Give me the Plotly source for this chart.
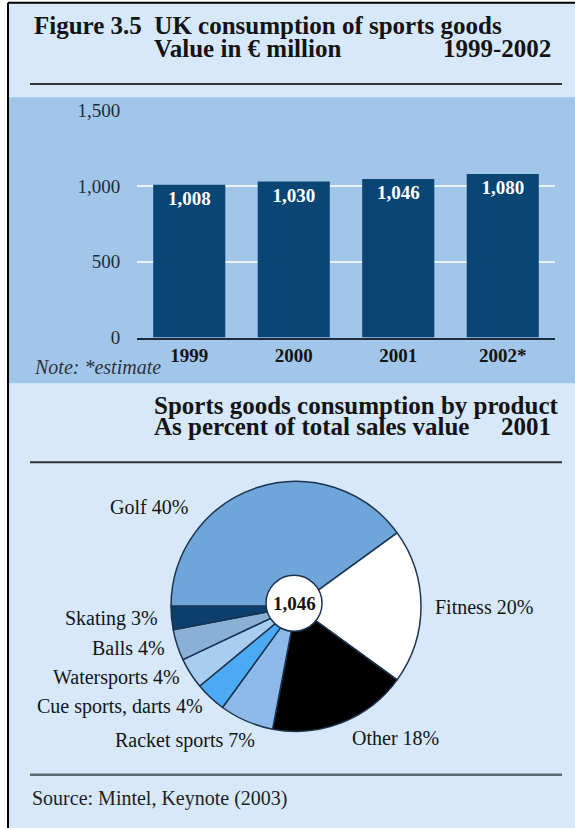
import plotly.graph_objects as go

# ---- data ----
years = ["1999", "2000", "2001", "2002*"]
sales_eur_m = [1008, 1030, 1046, 1080]

products = ["Golf", "Fitness", "Other", "Racket sports",
            "Cue sports, darts", "Watersports", "Balls", "Skating"]
share_pct = [40, 20, 18, 7, 4, 4, 4, 3]
pie_total = 1046  # 2001 total, € million

# ---- styling ----
W, H = 575, 828
SERIF = "Liberation Serif"
LIGHT_BG = "#D6E8FA"
PANEL_BG = "#A2C6EA"
BAR_COLOR = "#0B4574"
INK = "#141414"
slice_colors = ["#6FA5D8", "#FFFFFF", "#000000", "#8DBAE8",
                "#4CA9F4", "#A9CDEE", "#8BB0D7", "#0A3F6E"]

# vertical placement of the page layout (offset / scale)
Y_OFF, Y_SCALE = 5.25, 0.9858


def px(x):
    return x / W


def py(y):
    return 1 - ((y - Y_OFF) / Y_SCALE) / H


fig = go.Figure()

# bar chart: yearly consumption
fig.add_trace(go.Bar(
    x=years, y=sales_eur_m,
    marker=dict(color=BAR_COLOR, line=dict(width=0)),
    text=[f"{v:,}" for v in sales_eur_m],
    textposition="inside", insidetextanchor="end",
    textfont=dict(family=SERIF, size=19, color="white", weight="bold"),
    hoverinfo="skip", showlegend=False,
))

# pie chart: 2001 split by product
pie_cx, pie_cy, pie_r = 296, 603, 125
fig.add_trace(go.Pie(
    labels=products, values=share_pct,
    sort=False, direction="clockwise", rotation=270,
    marker=dict(colors=slice_colors, line=dict(color="#1B3450", width=1.5)),
    textinfo="none", hoverinfo="skip", showlegend=False,
    domain=dict(x=[px(pie_cx - pie_r), px(pie_cx + pie_r)],
                y=[py(pie_cy + pie_r), py(pie_cy - pie_r)]),
))

fig.update_layout(
    width=W, height=H, autosize=False,
    margin=dict(l=0, r=0, t=0, b=0),
    paper_bgcolor=LIGHT_BG, plot_bgcolor="rgba(0,0,0,0)",
    font=dict(family=SERIF, color=INK),
    bargap=0.31,
    xaxis=dict(
        type="category", domain=[px(137), px(555)],
        showgrid=False, showline=True, linecolor="#1E2C3A", linewidth=1.5,
        ticks="", ticklen=0, automargin=False,
        tickfont=dict(family=SERIF, size=19, color=INK, weight="bold"),
        fixedrange=True,
    ),
    yaxis=dict(
        range=[0, 1500], domain=[py(338), py(114)],
        tickvals=[0, 500, 1000, 1500], tickformat=",",
        showgrid=True, gridcolor="#EAF3FC", gridwidth=2,
        zeroline=False, showline=False, automargin=False,
        ticks="outside", ticklen=12, tickcolor="rgba(0,0,0,0)",
        tickfont=dict(family=SERIF, size=19, color="#1E2C3A"),
        fixedrange=True,
    ),
)

shapes = [
    # white margin strips and outer frame
    dict(type="rect", xref="paper", yref="paper", layer="below",
         x0=0, x1=px(8), y0=0, y1=1,
         fillcolor="white", line=dict(width=0)),
    dict(type="rect", xref="paper", yref="paper", layer="below",
         x0=0, x1=1, y0=py(8), y1=1,
         fillcolor="white", line=dict(width=0)),
    dict(type="line", xref="paper", yref="paper", layer="below",
         x0=px(8), x1=px(8), y0=0, y1=py(8),
         line=dict(color="black", width=2)),
    dict(type="line", xref="paper", yref="paper", layer="below",
         x0=px(8), x1=1, y0=py(8), y1=py(8),
         line=dict(color="black", width=2)),
    # bar panel band
    dict(type="rect", xref="paper", yref="paper", layer="below",
         x0=px(9), x1=1.02, y0=py(383), y1=py(101),
         fillcolor=PANEL_BG, line=dict(width=0)),
    # rules under headings and above source
    dict(type="line", xref="paper", yref="paper",
         x0=px(30), x1=px(562), y0=py(88), y1=py(88),
         line=dict(color="#2E3338", width=2)),
    dict(type="line", xref="paper", yref="paper",
         x0=px(30), x1=px(562), y0=py(461), y1=py(461),
         line=dict(color="#2E3338", width=2)),
    dict(type="line", xref="paper", yref="paper",
         x0=px(30), x1=px(562), y0=py(769), y1=py(769),
         line=dict(color="#5C6B78", width=2.5)),
    # white centre disc of the pie
    dict(type="circle", xref="paper", yref="paper", layer="above",
         xsizemode="pixel", ysizemode="pixel",
         xanchor=px(pie_cx - 2), yanchor=py(pie_cy - 3),
         x0=-28, x1=28, y0=-28, y1=28,
         fillcolor="white", line=dict(color="#1B3450", width=1.5)),
]

annotations = []


def text(s, x, y, size, anchor="left", bold=False, italic=False, color=INK):
    if bold:
        s = f"<b>{s}</b>"
    if italic:
        s = f"<i>{s}</i>"
    annotations.append(dict(
        text=s, x=px(x), y=py(y), xref="paper", yref="paper",
        xanchor=anchor, yanchor="middle", showarrow=False,
        font=dict(family=SERIF, size=size, color=color),
    ))


# headings
text("Figure 3.5&nbsp;&nbsp;UK consumption of sports goods", 32, 30, 25, bold=True)
text("Value in € million", 152, 53, 25, bold=True)
text("1999-2002", 553, 53, 25, anchor="right", bold=True)
text("Note: *estimate", 32, 367, 20, italic=True, color="#2A3440")
text("Sports goods consumption by product", 152, 405, 25, bold=True)
text("As percent of total sales value", 152, 426, 25, bold=True)
text("2001", 553, 426, 25, anchor="right", bold=True)
text("Source: Mintel, Keynote (2003)", 30, 792, 20, color="#1E1E1E")

# pie labels
label_pos = {
    "Golf": (149, 505, "center"),
    "Fitness": (433, 604, "left"),
    "Other": (350, 733, "left"),
    "Racket sports": (257, 735, "right"),
    "Cue sports, darts": (205, 702, "right"),
    "Watersports": (182, 673, "right"),
    "Balls": (167, 644, "right"),
    "Skating": (160, 615, "right"),
}
for name, pct in zip(products, share_pct):
    x, y, anc = label_pos[name]
    text(f"{name} {pct}%", x, y, 20, anchor=anc)

# pie centre total
text(f"{pie_total:,}", pie_cx - 2, pie_cy - 3, 19, anchor="center", bold=True)

fig.update_layout(shapes=shapes, annotations=annotations)

fig.write_html("out.html")
